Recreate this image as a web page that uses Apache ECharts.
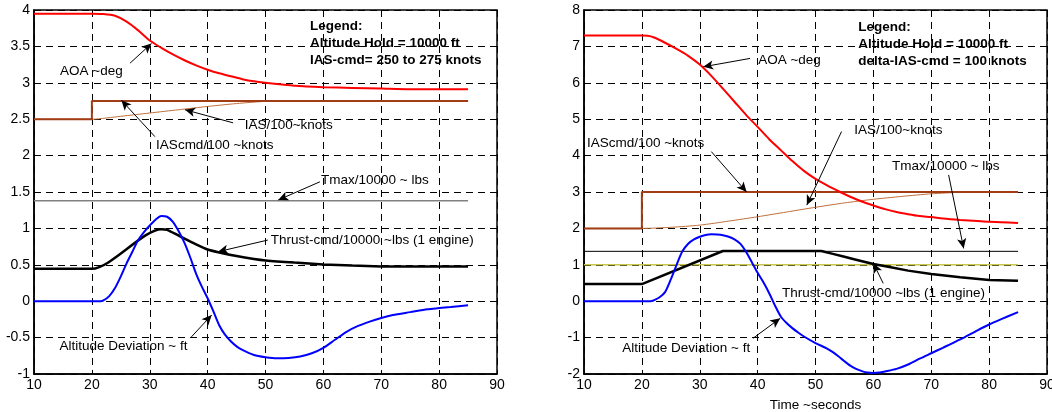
<!DOCTYPE html>
<html>
<head>
<meta charset="utf-8">
<script src="https://cdn.jsdelivr.net/npm/echarts@6/dist/echarts.min.js"></script>
<style>
  html, body { margin: 0; padding: 0; background: #fff; }
  #chart { width: 1052px; height: 412px; }
</style>
</head>
<body>
<div id="chart"></div>
<script>
// ---- left panel: IAS-cmd 250 -> 275 knots ----
const aoaTimeL = [10, 20, 22, 24, 26, 28, 30, 32, 34, 36, 38, 40, 42, 44, 46, 48, 50, 55, 60, 65, 70, 75, 80, 85]
const aoaL = [3.95, 3.95, 3.945, 3.92, 3.84, 3.72, 3.58, 3.48, 3.39, 3.31, 3.24, 3.18, 3.13, 3.09, 3.05, 3.02, 3.0, 2.96, 2.94, 2.93, 2.92, 2.91, 2.91, 2.91]
const cmdTimeL = [10, 20, 20, 85]
const iasCmdL = [2.5, 2.5, 2.75, 2.75]
const iasTimeL = [10, 20, 25, 30, 35, 40, 45, 50, 55, 85]
const iasL = [2.5, 2.5, 2.54, 2.585, 2.63, 2.675, 2.715, 2.745, 2.75, 2.75]
const tmaxTimeL = [10, 85]
const tmaxL = [1.38, 1.38]
const thrustTimeL = [10, 20, 32, 33, 35, 38, 40, 42, 45, 48, 50, 55, 60, 65, 70, 75, 80, 85]
const thrustL = [0.445, 0.445, 0.99, 0.98, 0.9, 0.78, 0.71, 0.67, 0.62, 0.58, 0.56, 0.53, 0.505, 0.49, 0.478, 0.475, 0.475, 0.475]
const altTimeL = [10, 21.5, 22, 23, 24, 25, 26, 27, 28, 29, 30, 31, 32, 33, 34, 35, 36, 37, 38, 39, 40, 41, 42, 43, 44, 45, 46, 48, 50, 52, 54, 56, 58, 60, 62, 64, 66, 68, 70, 72, 75, 78, 80, 82, 85]
const altL = [0, 0, 0.01, 0.07, 0.18, 0.34, 0.52, 0.68, 0.84, 0.95, 1.04, 1.12, 1.17, 1.16, 1.09, 0.96, 0.8, 0.6, 0.38, 0.2, 0.04, -0.14, -0.33, -0.46, -0.55, -0.62, -0.67, -0.74, -0.77, -0.785, -0.78, -0.76, -0.715, -0.64, -0.53, -0.42, -0.34, -0.28, -0.23, -0.19, -0.15, -0.11, -0.095, -0.08, -0.055]

// ---- right panel: delta IAS-cmd 100 knots ----
const aoaTimeR = [10, 20, 21, 22, 24, 26, 28, 30, 32, 34, 36, 38, 40, 42, 44, 46, 48, 50, 52, 54, 56, 58, 60, 62, 64, 66, 68, 70, 72, 75, 78, 80, 82, 85]
const aoaR = [7.3, 7.3, 7.29, 7.25, 7.1, 6.93, 6.74, 6.5, 6.19, 5.84, 5.48, 5.12, 4.79, 4.45, 4.15, 3.85, 3.58, 3.36, 3.18, 3.02, 2.87, 2.74, 2.63, 2.53, 2.45, 2.39, 2.34, 2.31, 2.27, 2.23, 2.2, 2.18, 2.17, 2.15]
const cmdTimeR = [10, 20, 20, 85]
const iasCmdR = [2, 2, 3, 3]
const iasTimeR = [10, 20, 25, 30, 35, 40, 45, 50, 55, 60, 65, 70, 75, 80, 85]
const iasR = [2, 2, 2.03, 2.09, 2.2, 2.32, 2.45, 2.58, 2.7, 2.8, 2.88, 2.95, 2.99, 3, 3]
const tmaxTimeR = [10, 85]
const tmaxR = [1.37, 1.37]
const refTimeR = [10, 85]
const refR = [1.0, 1.0]
const thrustTimeR = [10, 20, 34, 51, 53, 55, 57, 60, 63, 66, 70, 75, 80, 85]
const thrustR = [0.47, 0.47, 1.38, 1.38, 1.3, 1.22, 1.14, 1.02, 0.93, 0.84, 0.75, 0.66, 0.58, 0.56]
const altTimeR = [10, 21.5, 22, 23, 24, 25, 26, 27, 28, 29, 30, 31, 32, 33, 34, 35, 36, 37, 38, 39, 40, 41, 42, 43, 44, 45, 46, 47, 48, 50, 52, 53, 54, 55, 56, 57, 58, 59, 60, 61, 62, 64, 66, 68, 70, 72, 75, 78, 80, 82, 85]
const altR = [0, 0, 0.02, 0.1, 0.25, 0.6, 1.0, 1.37, 1.58, 1.7, 1.77, 1.82, 1.84, 1.83, 1.81, 1.77, 1.7, 1.58, 1.36, 1.07, 0.78, 0.52, 0.22, -0.12, -0.42, -0.6, -0.74, -0.86, -0.97, -1.15, -1.3, -1.4, -1.52, -1.65, -1.77, -1.86, -1.92, -1.96, -1.97, -1.96, -1.93, -1.86, -1.74, -1.58, -1.43, -1.28, -1.05, -0.8, -0.64, -0.5, -0.3]

const xTicksMin = 10, xTicksMax = 90, xStep = 10

// annotation text + arrow (tail -> head), in data units of each panel
const notesL = [
  { text: 'AOA ~deg', at: [14.5, 3.16], tail: [26.6, 3.27], head: [30.3, 3.54] },
  { text: 'IAScmd/100 ~knots', at: [31.1, 2.14], tail: [30.9, 2.26], head: [25.1, 2.76] },
  { text: 'IAS/100~knots', at: [46.4, 2.41], tail: [44.4, 2.45], head: [36.1, 2.63] },
  { text: 'Tmax/10000 ~ lbs', at: [59.6, 1.665], tail: [59.4, 1.64], head: [52.2, 1.39] },
  { text: 'Thrust-cmd/10000 ~lbs (1 engine)', at: [50.9, 0.84], tail: [50.4, 0.84], head: [41.8, 0.68] },
  { text: 'Altitude Deviation ~ ft', at: [14.4, -0.625], tail: [37.2, -0.49], head: [40.7, -0.19] }
]
const notesR = [
  { text: 'AOA ~deg', at: [40.1, 6.63], tail: [38.7, 6.67], head: [30.6, 6.44] },
  { text: 'IAScmd/100 ~knots', at: [10.5, 4.34], tail: [32.0, 4.11], head: [38.1, 3.0] },
  { text: 'IAS/100~knots', at: [56.7, 4.7], tail: [54.5, 4.66], head: [48.5, 2.64] },
  { text: 'Tmax/10000 ~ lbs', at: [63.2, 3.7], tail: [73.0, 3.47], head: [75.6, 1.45] },
  { text: 'Thrust-cmd/10000 ~lbs (1 engine)', at: [44.2, 0.22], tail: [61.7, 0.49], head: [60.0, 1.04] },
  { text: 'Altitude Deviation ~ ft', at: [16.6, -1.29], tail: [39.2, -1.02], head: [43.9, -0.47] }
]
const legendL = ['Legend:', 'Altitude Hold = 10000 ft', 'IAS-cmd= 250 to 275 knots']
const legendR = ['Legend:', 'Altitude Hold = 10000 ft', 'delta-IAS-cmd = 100 knots']

const FONT = '"Liberation Sans", Arial, Helvetica, sans-serif'

function pairs(xs, ys) {
  return xs.map((x, i) => [x, ys[i]])
}

function line(g, xs, ys, color, width, smooth, z) {
  return {
    type: 'line',
    xAxisIndex: g,
    yAxisIndex: g,
    data: pairs(xs, ys),
    symbol: 'none',
    smooth: smooth ? 0.25 : false,
    lineStyle: { color: color, width: width },
    silent: true,
    z: z || 2
  }
}

function arrows(notes) {
  return {
    silent: true,
    symbol: ['none', 'arrow'],
    symbolSize: [7, 10],
    label: { show: false },
    lineStyle: { color: '#000', width: 1, type: 'solid' },
    emphasis: { disabled: true },
    animation: false,
    data: notes.map(n => [{ coord: n.tail }, { coord: n.head }])
  }
}

const gridLine = { show: true, lineStyle: { color: '#000', width: 1, type: [7, 5] } }

function xAxis(g, name) {
  return {
    type: 'value',
    gridIndex: g,
    min: xTicksMin,
    max: xTicksMax,
    interval: xStep,
    name: name,
    nameLocation: 'middle',
    nameGap: 24,
    nameTextStyle: { color: '#000', fontSize: 13.5, fontFamily: FONT },
    axisLine: { show: true, onZero: false, lineStyle: { color: '#000', width: 1.5 } },
    axisTick: { show: false },
    axisLabel: { color: '#000', fontSize: 14, fontFamily: FONT, margin: 4 },
    splitLine: gridLine
  }
}

function yAxis(g, min, max, step) {
  return {
    type: 'value',
    gridIndex: g,
    min: min,
    max: max,
    interval: step,
    axisLine: { show: true, onZero: false, lineStyle: { color: '#000', width: 1.5 } },
    axisTick: { show: false },
    axisLabel: { color: '#000', fontSize: 14, fontFamily: FONT, margin: 4 },
    splitLine: gridLine
  }
}

const chart = echarts.init(document.getElementById('chart'))

const gridBase = {
  top: 10, width: 463, height: 364,
  show: true, borderColor: '#000', borderWidth: 1.5,
  containLabel: false, outerBoundsMode: 'none'
}

const tmaxLeft = line(0, tmaxTimeL, tmaxL, '#808080', 1.5, false, 1)
tmaxLeft.markLine = arrows(notesL)
const tmaxRight = line(1, tmaxTimeR, tmaxR, '#000', 1, false, 1)
tmaxRight.markLine = arrows(notesR)

chart.setOption({
  animation: false,
  backgroundColor: '#fff',
  grid: [
    Object.assign({ left: 34 }, gridBase),
    Object.assign({ left: 584 }, gridBase)
  ],
  xAxis: [xAxis(0, ''), xAxis(1, 'Time ~seconds')],
  yAxis: [yAxis(0, -1, 4, 0.5), yAxis(1, -2, 8, 1)],
  series: [
    tmaxLeft,
    line(0, iasTimeL, iasL, '#c0703c', 1, true),
    line(0, cmdTimeL, iasCmdL, '#a23c14', 2, false),
    line(0, aoaTimeL, aoaL, '#ff0000', 2, true),
    line(0, thrustTimeL, thrustL, '#000', 2.5, true),
    line(0, altTimeL, altL, '#0000ff', 2, true),

    tmaxRight,
    line(1, refTimeR, refR, '#c8c850', 1.5, false, 1),
    line(1, iasTimeR, iasR, '#c0703c', 1, true),
    line(1, cmdTimeR, iasCmdR, '#a23c14', 2, false),
    line(1, aoaTimeR, aoaR, '#ff0000', 2, true),
    line(1, thrustTimeR, thrustR, '#000', 2.5, false),
    line(1, altTimeR, altR, '#0000ff', 2, true)
  ]
})

// text labels placed through the axes' scales
function textEl(p, text, font) {
  return {
    type: 'text',
    x: p[0],
    y: p[1],
    z: 100,
    silent: true,
    style: {
      text: text,
      font: font,
      fill: '#000',
      align: 'left',
      verticalAlign: 'middle',
      textAlign: 'left',
      textVerticalAlign: 'middle'
    }
  }
}

const graphics = []
;[[0, notesL, legendL, [57.7, 3.77]], [1, notesR, legendR, [57.4, 7.52]]].forEach(([g, notes, legend, anchor]) => {
  notes.forEach(n => {
    const p = chart.convertToPixel({ gridIndex: g }, n.at)
    graphics.push(textEl(p, n.text, '13.5px ' + FONT))
  })
  const a = chart.convertToPixel({ gridIndex: g }, anchor)
  legend.forEach((t, i) => {
    graphics.push(textEl([a[0], a[1] + i * 17], t, 'bold 13.5px ' + FONT))
  })
})
chart.setOption({ graphic: graphics })
</script>
</body>
</html>
